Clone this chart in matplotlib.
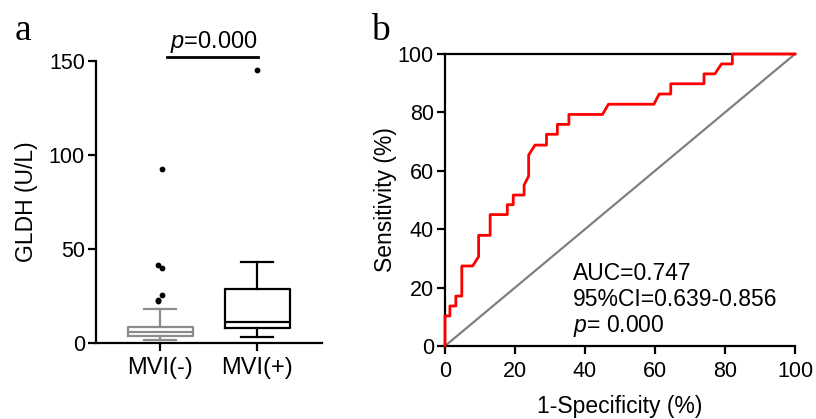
import numpy as np
import matplotlib
matplotlib.use("Agg")
import matplotlib.pyplot as plt

plt.rcParams['font.family'] = ['Liberation Sans', 'DejaVu Sans']
plt.rcParams['mathtext.fontset'] = 'custom'
plt.rcParams['mathtext.rm'] = 'Liberation Sans'
plt.rcParams['mathtext.it'] = 'Liberation Sans:italic'

# panel a: box plot summary
groups = ["MVI(-)", "MVI(+)"]
box_q1 = [3.9, 7.8]
box_med = [5.7, 11.3]
box_q3 = [8.7, 28.5]
whisk_lo = [1.6, 3.0]
whisk_hi = [17.9, 43.2]
fliers = [[22.5, 25.5, 23.0, 39.7, 41.5, 92.5], [145.2]]
group_colors = ["#8c8c8c", "black"]
p_text_a = "$p$=0.000"

# panel b: ROC curve vertices
fpr = [0, 0, 1.4, 1.4, 3.1, 3.1, 4.8, 4.8, 7.9, 9.6, 9.6, 12.9, 12.9, 17.8, 17.8,
       19.5, 19.5, 22.6, 22.6, 23.9, 23.9, 25.7, 29.0, 29.0, 32.1, 32.1, 35.4, 35.4,
       45.0, 46.7, 59.7, 61.2, 64.5, 64.5, 74.0, 74.0, 77.1, 79.0, 82.1, 82.1, 100]
tpr = [0, 10.3, 10.3, 13.7, 13.7, 17.1, 17.1, 27.4, 27.4, 30.6, 37.9, 37.9, 45.0,
       45.0, 48.4, 48.4, 51.7, 51.7, 55.1, 58.2, 65.4, 68.8, 68.8, 72.5, 72.5, 75.9,
       75.9, 79.3, 79.3, 82.8, 82.8, 86.3, 86.3, 89.8, 89.8, 93.2, 93.2, 96.6, 96.6,
       100, 100]
roc_notes = ["AUC=0.747", "95%CI=0.639-0.856", "$p$= 0.000"]

FS = 15.5   # tick numbers
FL = 16.5   # labels and notes
LW = 1.6

fig = plt.figure(figsize=(8.16, 4.19), dpi=100)

# ---------------- panel a
ax1 = fig.add_axes([96/816, 1-343/419, 226/816, 282/419])
stats = []
for i in range(len(groups)):
    stats.append(dict(med=box_med[i], q1=box_q1[i], q3=box_q3[i],
                      whislo=whisk_lo[i], whishi=whisk_hi[i], fliers=[]))
for i, s in enumerate(stats):
    c = group_colors[i]
    ax1.bxp([s], positions=[i+1], widths=0.67, capwidths=0.33, showfliers=False,
            boxprops=dict(color=c, linewidth=LW),
            medianprops=dict(color=c, linewidth=LW),
            whiskerprops=dict(color=c, linewidth=LW),
            capprops=dict(color=c, linewidth=LW))
    f = np.array(fliers[i])
    # small alternating dodge so stacked points stay visible
    dx = np.where(np.arange(len(f)) % 2 == 0, -0.025, 0.025) if len(f) > 1 else np.zeros(len(f))
    ax1.scatter(i + 1 + dx, f, s=10, color="black", zorder=3, clip_on=False)

ax1.set_xlim(0.34, 2.67)
ax1.set_ylim(0, 150)
ax1.set_yticks([0, 50, 100, 150])
ax1.set_xticks([1, 2])
ax1.set_xticklabels(groups)
ax1.spines['top'].set_visible(False)
ax1.spines['right'].set_visible(False)
for sp in ['left', 'bottom']:
    ax1.spines[sp].set_linewidth(LW)
ax1.tick_params(axis='both', labelsize=FS, width=LW, length=6, pad=2)
ax1.tick_params(axis='x', pad=4, labelsize=17)
ax1.set_ylabel("GLDH (U/L)", fontsize=FL)
ax1.yaxis.set_label_coords(-0.257, 0.5)
ax1.plot([1.07, 2.01], [152, 152], color="black", lw=LW+0.4, clip_on=False)
ax1.text(1.55, 157, p_text_a, ha="center", va="baseline", fontsize=17)

# ---------------- panel b
ax2 = fig.add_axes([445/816, 1-346/419, 350/816, 292/419])
ax2.plot([0, 100], [0, 100], color="#808080", lw=LW)
ax2.plot(fpr, tpr, color="red", lw=2.0, clip_on=False, zorder=4)
ax2.set_xlim(0, 100)
ax2.set_ylim(0, 100)
ax2.set_xticks(np.arange(0, 101, 20))
ax2.set_yticks(np.arange(0, 101, 20))
ax2.spines['right'].set_visible(False)
for sp in ['left', 'bottom', 'top']:
    ax2.spines[sp].set_linewidth(LW)
ax2.tick_params(axis='both', labelsize=FS, width=LW, length=6, pad=2)
ax2.tick_params(axis='x', pad=5)
ax2.set_xlabel("1-Specificity (%)", fontsize=FL, labelpad=9)
ax2.set_ylabel("Sensitivity (%)", fontsize=FL)
ax2.yaxis.set_label_coords(-0.137, 0.5)
for k, note in enumerate(roc_notes):
    ax2.text(36.6, 22.6 - 8.9*k, note, fontsize=FL, va="baseline", ha="left")

fig.text(15/816, 1-40/419, "a", fontsize=27, family="Liberation Serif", va="baseline")
fig.text(371/816, 1-40/419, "b", fontsize=27, family="Liberation Serif", va="baseline")

fig.savefig("out.png", dpi=100)
